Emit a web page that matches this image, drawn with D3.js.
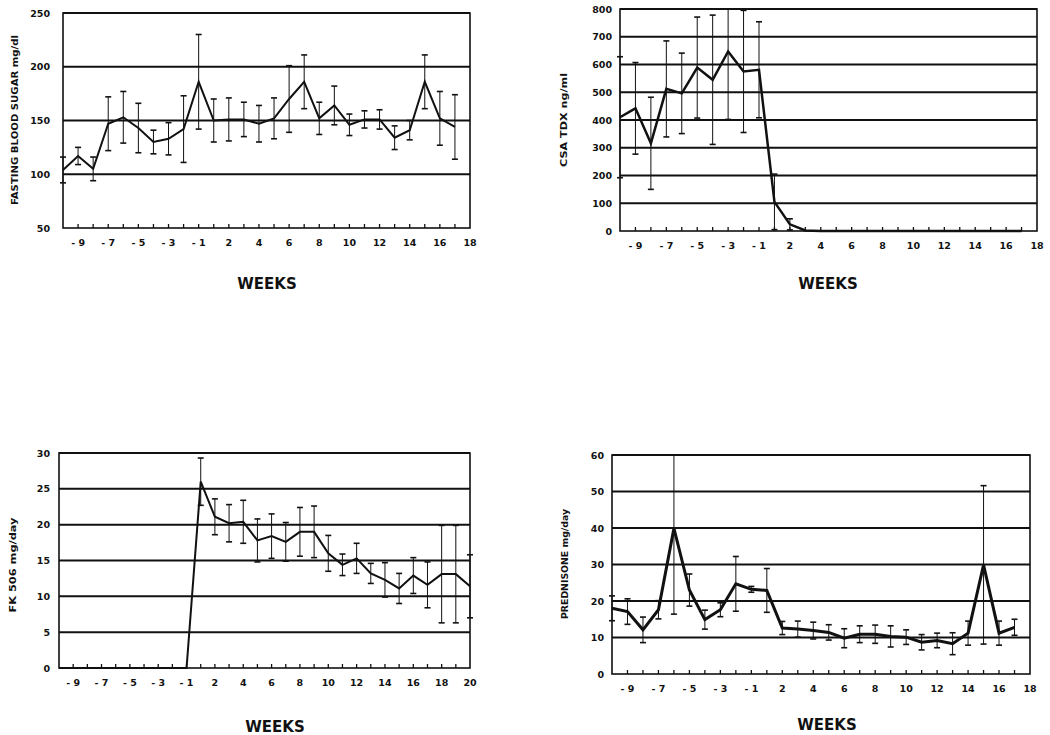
<!DOCTYPE html>
<html>
<head>
<meta charset="utf-8">
<script src="https://cdn.jsdelivr.net/npm/d3@7"></script>
<style>
body { margin: 0; background: #fff; }
svg { display: block; }
text { font-family: "DejaVu Sans", sans-serif; font-weight: bold; fill: #111; }
</style>
</head>
<body>
<svg id="chart" width="1050" height="735"></svg>
<script>
// week categories (there is no week 0)
const weeksTo18 = [-10, -9, -8, -7, -6, -5, -4, -3, -2, -1, 1, 2, 3, 4, 5, 6, 7, 8, 9, 10, 11, 12, 13, 14, 15, 16, 17, 18];
const weeksTo20 = [-10, -9, -8, -7, -6, -5, -4, -3, -2, -1, 1, 2, 3, 4, 5, 6, 7, 8, 9, 10, 11, 12, 13, 14, 15, 16, 17, 18, 19, 20];
const labelsTo18 = [-9, -7, -5, -3, -1, 2, 4, 6, 8, 10, 12, 14, 16, 18];
const labelsTo20 = [-9, -7, -5, -3, -1, 2, 4, 6, 8, 10, 12, 14, 16, 18, 20];

// fasting blood sugar, mg/dl
const fbsWeeks = [-10, -9, -8, -7, -6, -5, -4, -3, -2, -1, 1, 2, 3, 4, 5, 6, 7, 8, 9, 10, 11, 12, 13, 14, 15, 16, 17];
const fbsMean = [104, 117, 105, 147, 153, 143, 130, 133, 142, 186, 150, 151, 151, 147, 152, 170, 186, 152, 164, 146, 151, 151, 134, 141, 186, 152, 144];
const fbsErr = [12, 8, 11, 25, 24, 23, 11, 15, 31, 44, 20, 20, 16, 17, 19, 31, 25, 15, 18, 10, 8, 9, 11, 9, 25, 25, 30];
const fbsTicks = [50, 100, 150, 200, 250];

// CSA TDX, ng/ml
const csaWeeks = [-10, -9, -8, -7, -6, -5, -4, -3, -2, -1, 1, 2, 3, 4, 5, 6, 7, 8, 9, 10, 11, 12, 13, 14, 15, 16, 17];
const csaMean = [410, 442, 316, 512, 496, 589, 545, 647, 575, 581, 105, 24, 2, 0, 0, 0, 0, 0, 0, 0, 0, 0, 0, 0, 0, 0, 0];
const csaErr = [218, 165, 166, 173, 145, 182, 233, 245, 220, 173, 100, 20, 0, 0, 0, 0, 0, 0, 0, 0, 0, 0, 0, 0, 0, 0, 0];
const csaTicks = [0, 100, 200, 300, 400, 500, 600, 700, 800];

// FK 506, mg/day
const fkWeeks = [-10, -9, -8, -7, -6, -5, -4, -3, -2, -1, 1, 2, 3, 4, 5, 6, 7, 8, 9, 10, 11, 12, 13, 14, 15, 16, 17, 18, 19, 20];
const fkMean = [0, 0, 0, 0, 0, 0, 0, 0, 0, 0, 26, 21.1, 20.2, 20.4, 17.8, 18.4, 17.6, 19, 19, 16, 14.4, 15.3, 13.2, 12.3, 11.1, 12.9, 11.6, 13.1, 13.1, 11.4];
const fkErr = [0, 0, 0, 0, 0, 0, 0, 0, 0, 0, 3.3, 2.5, 2.6, 3, 3, 3.1, 2.7, 3.4, 3.6, 2.5, 1.5, 2.1, 1.4, 2.4, 2.1, 2.5, 3.2, 6.8, 6.8, 4.4];
const fkTicks = [0, 5, 10, 15, 20, 25, 30];

// prednisone, mg/day
const predWeeks = [-10, -9, -8, -7, -6, -5, -4, -3, -2, -1, 1, 2, 3, 4, 5, 6, 7, 8, 9, 10, 11, 12, 13, 14, 15, 16, 17];
const predMean = [18, 17.1, 12.1, 17.6, 39.9, 23, 14.9, 17.6, 24.7, 23.2, 22.9, 12.6, 12.3, 11.9, 11.4, 9.8, 10.9, 10.9, 10.3, 10.1, 8.7, 9.2, 8.3, 11.2, 29.9, 11.2, 12.8];
const predErr = [3.4, 3.5, 3.5, 2.5, 23.5, 4.4, 2.6, 1.9, 7.5, 0.8, 6, 1.8, 2.2, 2.3, 2.1, 2.6, 2.3, 2.5, 2.9, 2, 2.1, 2, 3, 3.3, 21.7, 3.3, 2.2];
const predTicks = [0, 10, 20, 30, 40, 50, 60];

const svg = d3.select("#chart");

function drawPanel(p) {
    const g = svg.append("g");
    const x = d3.scalePoint().domain(p.cats).range([p.left, p.right]);
    const y = d3.scaleLinear().domain(d3.extent(p.yTicks)).range([p.bottom, p.top]);

    // horizontal grid lines
    g.selectAll(".grid")
        .data(p.yTicks.slice(1, -1))
        .enter()
        .append("line")
        .attr("x1", p.left).attr("x2", p.right)
        .attr("y1", d => y(d)).attr("y2", d => y(d))
        .attr("stroke", "#111").attr("stroke-width", 2);

    // frame
    g.append("rect")
        .attr("x", p.left).attr("y", p.top)
        .attr("width", p.right - p.left).attr("height", p.bottom - p.top)
        .attr("fill", "none").attr("stroke", "#111").attr("stroke-width", 1.6);
    g.append("line")
        .attr("x1", p.left).attr("x2", p.right)
        .attr("y1", p.top).attr("y2", p.top)
        .attr("stroke", "#111").attr("stroke-width", 2);

    // small inward ticks on the week axis
    g.selectAll(".tick-mark")
        .data(p.cats.slice(1, -1))
        .enter()
        .append("line")
        .attr("x1", d => x(d)).attr("x2", d => x(d))
        .attr("y1", p.bottom).attr("y2", p.bottom - 4)
        .attr("stroke", "#111").attr("stroke-width", 1.3);

    // y axis labels
    const yAxis = d3.axisLeft(y).tickValues(p.yTicks).tickSize(0).tickPadding(p.yGap);
    const ya = g.append("g").attr("transform", `translate(${p.left},0)`).call(yAxis);
    ya.select(".domain").remove();
    ya.selectAll("text").style("font-size", "9.5px").style("font-family", "'DejaVu Sans', sans-serif").style("font-weight", "bold").attr("fill", "#111");

    // x axis labels
    g.selectAll(".xlab")
        .data(p.xLabels)
        .enter()
        .append("text")
        .attr("x", d => x(d))
        .attr("y", p.bottom + 18)
        .attr("text-anchor", "middle")
        .style("font-size", "9.5px")
        .text(d => d < 0 ? "- " + Math.abs(d) : d);

    // error bars
    const bars = p.weeks.map((w, i) => ({w: w, m: p.mean[i], e: p.err[i]})).filter(d => d.e > 0);
    bars.forEach(d => {
        const cx = x(d.w);
        const hi = Math.min(d.m + d.e, y.domain()[1]);
        const lo = Math.max(d.m - d.e, y.domain()[0]);
        g.append("line")
            .attr("x1", cx).attr("x2", cx)
            .attr("y1", y(hi)).attr("y2", y(lo))
            .attr("stroke", "#111").attr("stroke-width", 1);
        if (d.m + d.e <= y.domain()[1]) {
            g.append("line")
                .attr("x1", cx - 3).attr("x2", cx + 3)
                .attr("y1", y(hi)).attr("y2", y(hi))
                .attr("stroke", "#111").attr("stroke-width", 1.6);
        }
        g.append("line")
            .attr("x1", cx - 3).attr("x2", cx + 3)
            .attr("y1", y(lo)).attr("y2", y(lo))
            .attr("stroke", "#111").attr("stroke-width", 1.6);
    });

    // mean line
    const line = d3.line().x((d, i) => x(p.weeks[i])).y(d => y(d));
    g.append("path")
        .attr("d", line(p.mean))
        .attr("fill", "none")
        .attr("stroke", "#111")
        .attr("stroke-width", p.lineWidth)
        .attr("stroke-linejoin", "miter");

    // axis titles
    g.append("text")
        .attr("transform", `translate(${p.yTitleX},${p.yTitleY}) rotate(-90)`)
        .attr("text-anchor", "middle")
        .attr("dy", "0.35em")
        .attr("textLength", p.yTitleLen)
        .attr("lengthAdjust", "spacingAndGlyphs")
        .style("font-size", "8.5px")
        .text(p.yTitle);

    g.append("text")
        .attr("x", p.weeksX)
        .attr("y", p.weeksY)
        .attr("text-anchor", "middle")
        .style("font-size", "15px")
        .text("WEEKS");
}

drawPanel({
    cats: weeksTo18, xLabels: labelsTo18, weeks: fbsWeeks, mean: fbsMean, err: fbsErr, yTicks: fbsTicks,
    left: 63, right: 470, top: 13, bottom: 228, yGap: 13, lineWidth: 2,
    yTitle: "FASTING BLOOD SUGAR mg/dl", yTitleX: 15, yTitleY: 120, yTitleLen: 170,
    weeksX: 267, weeksY: 289
});

drawPanel({
    cats: weeksTo18, xLabels: labelsTo18, weeks: csaWeeks, mean: csaMean, err: csaErr, yTicks: csaTicks,
    left: 620, right: 1037, top: 9, bottom: 231, yGap: 8, lineWidth: 2.5,
    yTitle: "CSA TDX ng/ml", yTitleX: 564, yTitleY: 120, yTitleLen: 94,
    weeksX: 828, weeksY: 289
});

drawPanel({
    cats: weeksTo20, xLabels: labelsTo20, weeks: fkWeeks, mean: fkMean, err: fkErr, yTicks: fkTicks,
    left: 59, right: 470, top: 453, bottom: 668, yGap: 9, lineWidth: 2,
    yTitle: "FK 506 mg/day", yTitleX: 13, yTitleY: 565, yTitleLen: 95,
    weeksX: 275, weeksY: 732
});

drawPanel({
    cats: weeksTo18, xLabels: labelsTo18, weeks: predWeeks, mean: predMean, err: predErr, yTicks: predTicks,
    left: 612, right: 1030, top: 455, bottom: 674, yGap: 8, lineWidth: 3,
    yTitle: "PREDNISONE mg/day", yTitleX: 565, yTitleY: 564, yTitleLen: 110,
    weeksX: 827, weeksY: 730
});
</script>
</body>
</html>
